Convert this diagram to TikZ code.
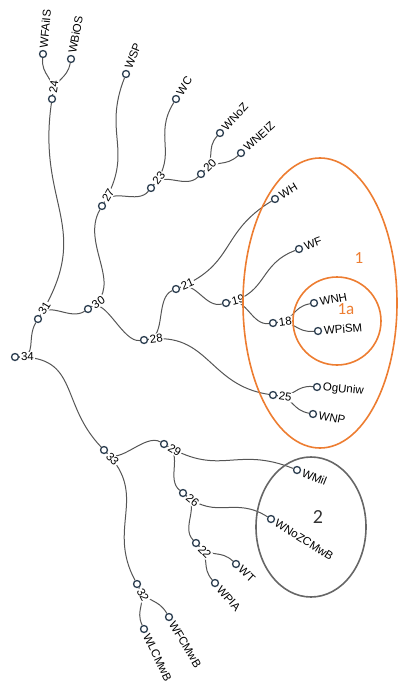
\documentclass[tikz,border=0pt]{standalone}
\usepackage{fontspec}
\setmainfont{Liberation Sans}
\newfontfamily\calib{Carlito}
\usetikzlibrary{calc}
\pgfdeclarelayer{bg}
\pgfsetlayers{bg,main}
\definecolor{dotc}{HTML}{2C3E50}
\definecolor{edgec}{HTML}{555555}
\definecolor{orng}{HTML}{ED7D31}
\definecolor{grayc}{HTML}{666666}
\tikzset{
  dot/.style={circle, draw=dotc, line width=1.3pt, fill=white, minimum size=7pt, inner sep=0pt},
  lbl/.style={anchor=west, inner sep=0.8pt, fill=white, font=\fontsize{11.5}{13}\selectfont, text=black},
  edge/.style={draw=edgec, line width=1pt},
  grp/.style={line width=1.6pt},
  biglbl/.style={font=\calib\fontsize{17}{19}\selectfont, inner sep=0pt}
}
\newcommand\mytn[4]{%
  \pgfmathsetmacro\mytnang{atan2(357-#3,#2-15)}%
  \node[dot] (#1) at (#2,#3) {};
  \node[lbl, rotate=\mytnang] (#1-l) at ($(#1)+(\mytnang:5pt)$) {#4};
}
\newcommand\mylk[2]{%
  \draw[edge] let \p1=($(#1)-(n34)$), \p2=($(#2)-(n34)$),
    \n1={atan2(\y1,\x1)}, \n2={atan2(\y2,\x2)},
    \n3={(veclen(\x1,\y1)+veclen(\x2,\y2))/2} in
    (#1) .. controls ($(n34)+(\n1:\n3)$) and ($(n34)+(\n2:\n3)$) .. (#2);
}
\newcommand\mylkr[1]{%
  \draw[edge] let \p2=($(#1)-(n34)$), \n2={atan2(\y2,\x2)},
    \n3={veclen(\x2,\y2)/2} in
    (n34) .. controls ($(n34)+(0:\n3)$) and ($(n34)+(\n2:\n3)$) .. (#1);
}
\begin{document}
\begin{tikzpicture}[x=1pt, y=-1pt]
\useasboundingbox (0,0) rectangle (399,685);
% root
\node[dot] (n34) at (15,357) {};
\node[lbl] (n34-l) at ($(n34)+(5pt,0)$) {34};
% internal and leaves
\mytn{n31}{38}{319}{31}
\mytn{n30}{88}{309}{30}
\mytn{n24}{52}{99}{24}
\mytn{WFAiIS}{43}{54}{WFAiIS}
\mytn{WBiOS}{71}{59}{WBiOS}
\mytn{n27}{102}{206}{27}
\mytn{WSP}{126}{74}{WSP}
\mytn{n23}{151}{188}{23}
\mytn{WC}{176}{99}{WC}
\mytn{n20}{201}{174}{20}
\mytn{WNoZ}{220}{133}{WNoZ}
\mytn{WNEIZ}{241}{153}{WNEIZ}
\mytn{n28}{144}{340}{28}
\mytn{n21}{176}{289}{21}
\mytn{WH}{275}{199}{WH}
\mytn{n19}{226}{303}{19}
\mytn{WF}{299}{249}{WF}
\mytn{n18}{273}{323}{18}
\mytn{WNH}{314}{303}{WNH}
\mytn{WPiSM}{318}{331}{WPiSM}
\mytn{n25}{273}{395}{25}
\mytn{OgUniw}{317}{387}{OgUniw}
\mytn{WNP}{313}{414}{WNP}
\mytn{n33}{104}{450}{33}
\mytn{n29}{164}{444}{29}
\mytn{WMil}{297}{470}{WMil}
\mytn{n26}{183}{493}{26}
\mytn{WNoZCMwB}{271}{519}{WNoZCMwB}
\mytn{n22}{196}{543}{22}
\mytn{WT}{236}{564}{WT}
\mytn{WPIA}{215}{583}{WPIA}
\mytn{n32}{137}{584}{32}
\mytn{WFCMwB}{169}{617}{WFCMwB}
\mytn{WLCMwB}{144}{629}{WLCMwB}
% links
\begin{pgfonlayer}{bg}
\mylkr{n31}
\mylkr{n33}
\mylk{n31}{n24}
\mylk{n31}{n30}
\mylk{n24}{WFAiIS}
\mylk{n24}{WBiOS}
\mylk{n30}{n27}
\mylk{n30}{n28}
\mylk{n27}{WSP}
\mylk{n27}{n23}
\mylk{n23}{WC}
\mylk{n23}{n20}
\mylk{n20}{WNoZ}
\mylk{n20}{WNEIZ}
\mylk{n28}{n21}
\mylk{n28}{n25}
\mylk{n21}{WH}
\mylk{n21}{n19}
\mylk{n19}{WF}
\mylk{n19}{n18}
\mylk{n18}{WNH}
\mylk{n18}{WPiSM}
\mylk{n25}{OgUniw}
\mylk{n25}{WNP}
\mylk{n33}{n29}
\mylk{n33}{n32}
\mylk{n29}{WMil}
\mylk{n29}{n26}
\mylk{n26}{WNoZCMwB}
\mylk{n26}{n22}
\mylk{n22}{WT}
\mylk{n22}{WPIA}
\mylk{n32}{WFCMwB}
\mylk{n32}{WLCMwB}
\end{pgfonlayer}
% groups
\draw[grp, orng] (320,303) ellipse [x radius=77pt, y radius=145pt];
\draw[grp, orng] (337,321) circle [radius=44pt];
\draw[grp, grayc] (311,527) ellipse [x radius=55pt, y radius=70pt];
\node[biglbl, text=orng] (g1) at (359,258) {1};
\node[biglbl, text=orng] (g1a) at (346,309) {1a};
\node[biglbl, text=black!80, font=\calib\fontsize{20}{22}\selectfont] (g2) at (318,517) {2};
\end{tikzpicture}
\end{document}
